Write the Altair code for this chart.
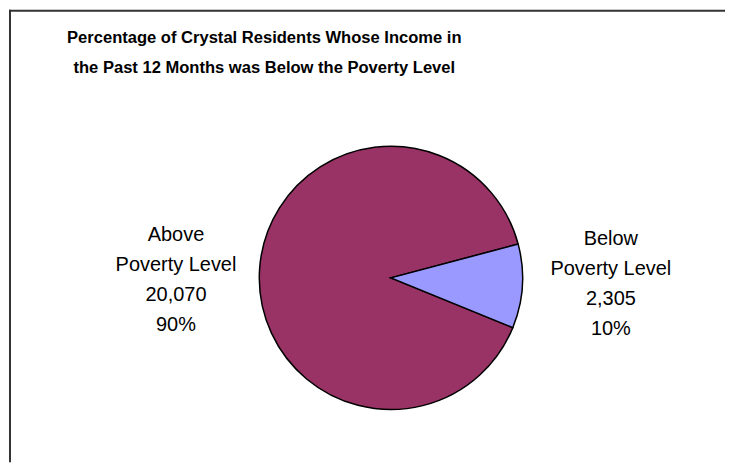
import math
import altair as alt
import pandas as pd

# ---- data ----
categories = ["Above Poverty Level", "Below Poverty Level"]
label_lines = ["Above\nPoverty Level", "Below\nPoverty Level"]
counts = [20070, 2305]
title_lines = [
    "Percentage of Crystal Residents Whose Income in",
    "the Past 12 Months was Below the Poverty Level",
]
colors = ["#993366", "#9999FF"]

total = sum(counts)
df = pd.DataFrame({
    "cat": categories,
    "value": counts,
    "label": [
        f"{l}\n{v:,}\n{round(100 * v / total)}%"
        for l, v in zip(label_lines, counts)
    ],
})

W, H = 718, 454
CX, CY = 383, 269       # pie centre inside the view
R = 132
start = math.radians(112.2)

theta = alt.Theta("value:Q", stack=True,
                  scale=alt.Scale(range=[start, start + 2 * math.pi]))
order = alt.Order("cat:N", sort="ascending")
FONT = "Liberation Sans"

base = alt.Chart(df)

pie = base.mark_arc(radius=R, stroke="#000000", strokeWidth=1.5).encode(
    theta=theta,
    order=order,
    color=alt.Color("cat:N", scale=alt.Scale(domain=categories, range=colors),
                    legend=None),
    x=alt.value(CX), y=alt.value(CY),
)

def label_layer(cat, radius, dy):
    return base.mark_text(
        radius=radius, dy=dy, align="center", baseline="alphabetic",
        font=FONT, fontSize=20, lineBreak="\n", lineHeight=30, color="#000000",
    ).encode(
        theta=theta,
        order=order,
        detail="cat:N",
        text=alt.condition(alt.datum.cat == cat, "label:N", alt.value("")),
        x=alt.value(CX), y=alt.value(CY),
    )

above_lbl = label_layer(categories[0], 216, -23)
below_lbl = label_layer(categories[1], 221, -47)

title = alt.Chart(pd.DataFrame({"t": ["\n".join(title_lines)]})).mark_text(
    align="center", baseline="alphabetic", font=FONT, fontSize=16.6,
    fontWeight="bold", lineBreak="\n", lineHeight=31, color="#000000",
).encode(text="t:N", x=alt.value(256), y=alt.value(33))

frame_df = pd.DataFrame({"k": [0]})
left_rule = alt.Chart(frame_df).mark_rule(color="#333333", strokeWidth=2).encode(
    x=alt.value(1), y=alt.value(0), y2=alt.value(H))
top_rule = alt.Chart(frame_df).mark_rule(color="#333333", strokeWidth=2).encode(
    y=alt.value(1), x=alt.value(0), x2=alt.value(W))

chart = alt.layer(pie, above_lbl, below_lbl, title, left_rule, top_rule).properties(
    width=W, height=H, padding=0, background="#ffffff",
).configure_view(stroke="transparent")

chart.save("out.html", embed_options={"renderer": "svg", "actions": False})
